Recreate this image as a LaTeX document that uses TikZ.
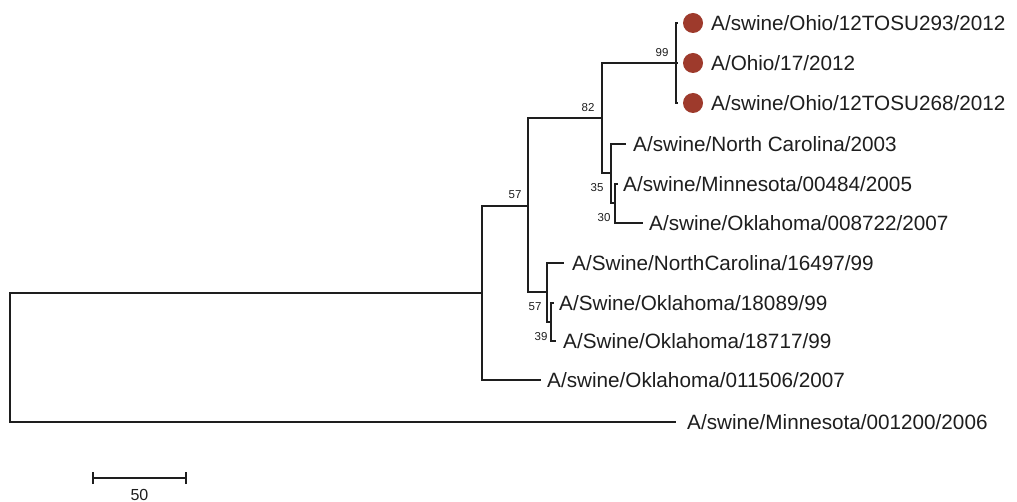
\documentclass[tikz,border=0pt]{standalone}
\usepackage{fontspec}
\setmainfont{Liberation Sans}
\definecolor{dotred}{RGB}{158,58,44}
\definecolor{ink}{RGB}{30,30,30}
\begin{document}
\begin{tikzpicture}[x=1pt,y=-1pt,
  br/.style={draw=ink,line width=2pt,line cap=rect},
  leaf/.style={anchor=base west,inner sep=0pt,text=ink,font=\fontsize{20.7}{24}\selectfont},
  boot/.style={inner sep=0pt,text=ink,font=\fontsize{11.5}{13}\selectfont},
  dot/.style={circle,fill=dotred,draw=none,minimum size=20pt,inner sep=0pt}]
\useasboundingbox (0,0) rectangle (1017,502);
\fill[white] (0,0) rectangle (1017,502);
% internal nodes
\coordinate (r) at (10,358);
\coordinate (a) at (482,293);
\coordinate (b) at (528,206);
\coordinate (c) at (602,118);
\coordinate (d) at (676,63);
\coordinate (e) at (611,173);
\coordinate (f) at (615,203);
\coordinate (g) at (547,292);
\coordinate (h) at (551,322);
% tips
\coordinate (t1) at (677,23);
\coordinate (t2) at (677,63);
\coordinate (t3) at (677,103);
\coordinate (t4) at (625,144);
\coordinate (t5) at (617,184);
\coordinate (t6) at (642,223);
\coordinate (t7) at (563,263);
\coordinate (t8) at (553,303);
\coordinate (t9) at (555,341);
\coordinate (t10) at (540,380);
\coordinate (t11) at (675,422);
% branches
\draw[br] (r) |- (a); \draw[br] (r) |- (t11);
\draw[br] (a) |- (b); \draw[br] (a) |- (t10);
\draw[br] (b) |- (c); \draw[br] (b) |- (g);
\draw[br] (c) |- (d); \draw[br] (c) |- (e);
\draw[br] (d) |- (t1); \draw[br] (d) |- (t2); \draw[br] (d) |- (t3);
\draw[br] (e) |- (t4); \draw[br] (e) |- (f);
\draw[br] (f) |- (t5); \draw[br] (f) |- (t6);
\draw[br] (g) |- (t7); \draw[br] (g) |- (h);
\draw[br] (h) |- (t8); \draw[br] (h) |- (t9);
% dots
\node[dot] (d1) at (693,23) {};
\node[dot] (d2) at (693,63) {};
\node[dot] (d3) at (693,103) {};
% leaf labels
\node[leaf] (l1) at (711,30.5) {A/swine/Ohio/12TOSU293/2012};
\node[leaf] (l2) at (711,70.5) {A/Ohio/17/2012};
\node[leaf] (l3) at (711,110.5) {A/swine/Ohio/12TOSU268/2012};
\node[leaf] (l4) at (633,151.5) {A/swine/North Carolina/2003};
\node[leaf] (l5) at (623,191.5) {A/swine/Minnesota/00484/2005};
\node[leaf] (l6) at (649,230.5) {A/swine/Oklahoma/008722/2007};
\node[leaf] (l7) at (572,270.5) {A/Swine/NorthCarolina/16497/99};
\node[leaf] (l8) at (559,310.5) {A/Swine/Oklahoma/18089/99};
\node[leaf] (l9) at (563,348.5) {A/Swine/Oklahoma/18717/99};
\node[leaf] (l10) at (547,387.5) {A/swine/Oklahoma/011506/2007};
\node[leaf] (l11) at (687,429.5) {A/swine/Minnesota/001200/2006};
% bootstrap values
\node[boot] (b99) at (662,53) {99};
\node[boot] (b82) at (588,108) {82};
\node[boot] (b57a) at (515,195) {57};
\node[boot] (b35) at (597,188) {35};
\node[boot] (b30) at (604,218) {30};
\node[boot] (b57b) at (535,307) {57};
\node[boot] (b39) at (541,337) {39};
% scale bar
\coordinate (s1) at (93,478);
\coordinate (s2) at (186,478);
\draw[br,line width=1.6pt,line cap=butt] (s1) -- (s2);
\draw[br,line width=1.6pt,line cap=butt] ([yshift=-6pt]s1) -- ([yshift=6pt]s1);
\draw[br,line width=1.6pt,line cap=butt] ([yshift=-6pt]s2) -- ([yshift=6pt]s2);
\node[anchor=base,inner sep=0pt,text=ink,font=\fontsize{16}{19}\selectfont] (sl) at (139.5,500) {50};
\end{tikzpicture}
\end{document}
